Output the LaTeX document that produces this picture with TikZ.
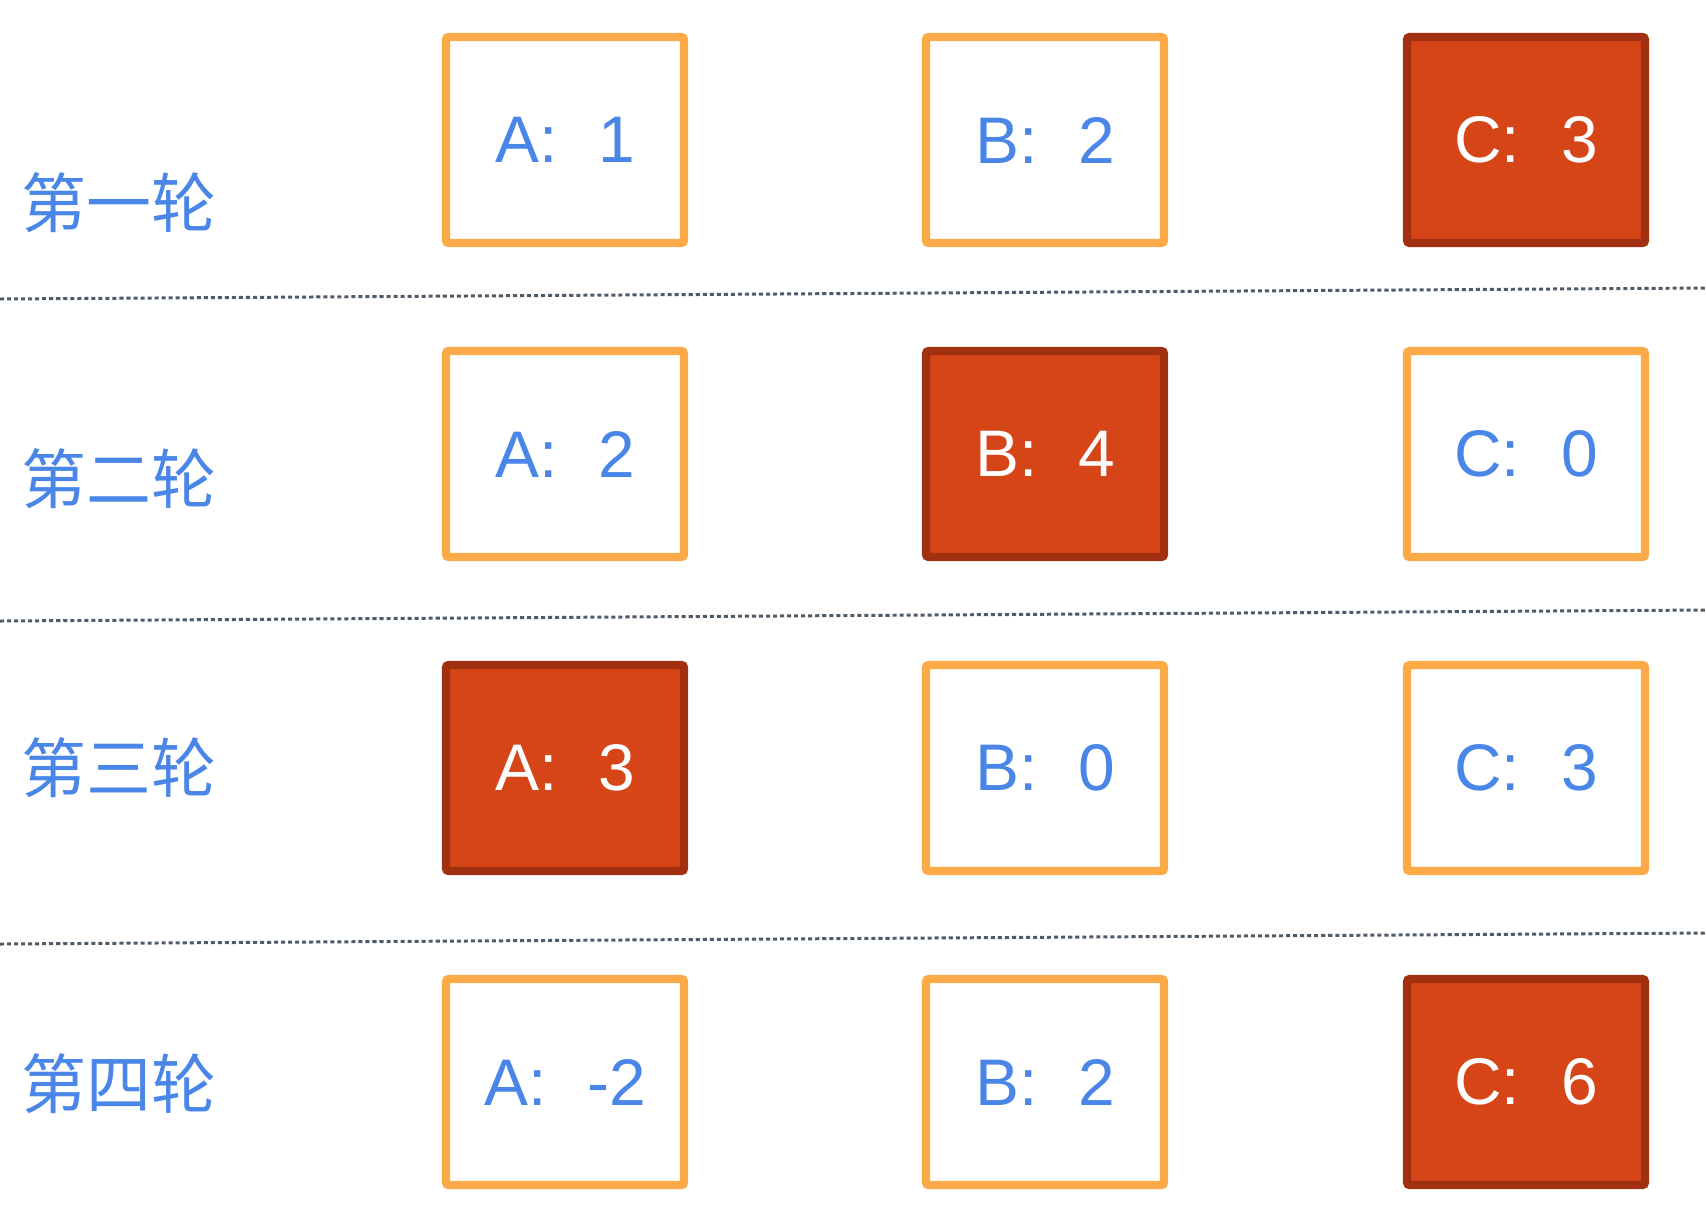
\documentclass[tikz,border=0pt]{standalone}
\usepackage{fontspec}
\setmainfont{Liberation Sans}
\newfontfamily\cjk{Noto Sans CJK SC}
\usepackage{tikz}
\usetikzlibrary{calc}
\definecolor{boxorange}{HTML}{FBAA47}
\definecolor{boxred}{HTML}{D64517}
\definecolor{boxdark}{HTML}{A0300F}
\definecolor{txtblue}{HTML}{4A86E8}
\definecolor{dotgray}{HTML}{4F5B66}
\def\val#1#2{#1:\hspace{0.62em}#2}

\begin{document}
\begin{tikzpicture}[x=0.02cm, y=-0.02cm,
		cell/.style={draw=boxorange, line width=4.7pt, fill=white, rounded corners=1.5pt, minimum width=4.76cm, minimum height=4.12cm, inner sep=0pt, text=txtblue, font=\fontsize{37.5}{40}\selectfont},
		hot/.style={cell, draw=boxdark, fill=boxred, text=white},
		round/.style={anchor=west, inner sep=0pt, text=txtblue, font=\cjk\fontsize{37}{40}\selectfont},
		sep/.style={draw=dotgray, line width=1.7pt, dash pattern=on 2.3pt off 1.7pt}]
			%%%%% START %%%%%
			
			\useasboundingbox (0, 0) rectangle (1706, 1204);
			
			\node[round] (r1) at (21, 203) {第一轮};
			\node[cell] (a1) at (565, 140) {\val{A}{1}};
			\node[cell] (b1) at (1045, 140) {\val{B}{2}};
			\node[hot] (c1) at (1526, 140) {\val{C}{3}};
			
			\coordinate (l1) at (0, 299);
			\coordinate (m1) at (1706, 288);
			\draw[sep] (l1) -- (m1);
			
			\node[round] (r2) at (21, 479) {第二轮};
			\node[cell] (a2) at (565, 454) {\val{A}{2}};
			\node[hot] (b2) at (1045, 454) {\val{B}{4}};
			\node[cell] (c2) at (1526, 454) {\val{C}{0}};
			
			\coordinate (l2) at (0, 621);
			\coordinate (m2) at (1706, 610);
			\draw[sep] (l2) -- (m2);
			
			\node[round] (r3) at (21, 768) {第三轮};
			\node[hot] (a3) at (565, 768) {\val{A}{3}};
			\node[cell] (b3) at (1045, 768) {\val{B}{0}};
			\node[cell] (c3) at (1526, 768) {\val{C}{3}};
			
			\coordinate (l3) at (0, 944);
			\coordinate (m3) at (1706, 933);
			\draw[sep] (l3) -- (m3);
			
			\node[round] (r4) at (21, 1084) {第四轮};
			\node[cell] (a4) at (565, 1082) {\val{A}{-2}};
			\node[cell] (b4) at (1045, 1082) {\val{B}{2}};
			\node[hot] (c4) at (1526, 1082) {\val{C}{6}};
			
			%%%%% END %%%%%
		\end{tikzpicture}
\end{document}
